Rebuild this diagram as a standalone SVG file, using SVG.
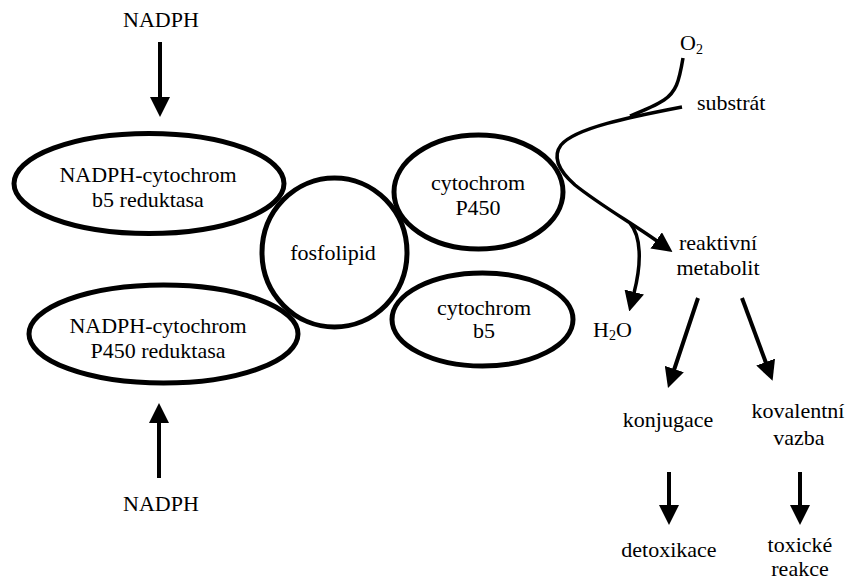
<svg xmlns="http://www.w3.org/2000/svg" width="847" height="582" viewBox="0 0 847 582">
<style>
  .node { fill: none; stroke: #000; stroke-width: 5; }
  .t { font-family: "Liberation Serif", "Times New Roman", serif; font-size: 22px; fill: #000; }
  .c { text-anchor: middle; }
  .arr { fill: none; stroke: #000; stroke-width: 4; marker-end: url(#ah); }
  .crv { fill: none; stroke: #000; stroke-width: 3.5; }
</style>
<defs>
  <marker id="ah" viewBox="0 0 20 20" refX="1" refY="10" markerWidth="20" markerHeight="20" markerUnits="userSpaceOnUse" orient="auto">
    <path d="M0,0 L20,10 L0,20 Z" fill="#000"/>
  </marker>
</defs>
<rect width="847" height="582" fill="#fff"/>

<g id="nadph-top"><text class="t c" x="161" y="27">NADPH</text></g>
<g id="nadph-bottom"><text class="t c" x="161" y="511">NADPH</text></g>

<g id="b5-reduktasa">
  <ellipse class="node" cx="149" cy="183.5" rx="135" ry="50"/>
  <text class="t c" x="148" y="182">NADPH-cytochrom</text>
  <text class="t c" x="148" y="207">b5 reduktasa</text>
</g>
<g id="p450-reduktasa">
  <ellipse class="node" cx="163.5" cy="334" rx="134.5" ry="49"/>
  <text class="t c" x="158" y="333">NADPH-cytochrom</text>
  <text class="t c" x="158" y="358">P450 reduktasa</text>
</g>
<g id="fosfolipid">
  <ellipse class="node" cx="334.5" cy="252.5" rx="72.5" ry="74.5"/>
  <text class="t c" x="333" y="260">fosfolipid</text>
</g>
<g id="cyt-p450">
  <ellipse class="node" cx="478.5" cy="192" rx="84.5" ry="57"/>
  <text class="t c" x="478" y="190">cytochrom</text>
  <text class="t c" x="478" y="215">P450</text>
</g>
<g id="cyt-b5">
  <ellipse class="node" cx="482.5" cy="319.5" rx="90.5" ry="46.5"/>
  <text class="t c" x="484" y="315">cytochrom</text>
  <text class="t c" x="484" y="338">b5</text>
</g>

<g id="o2"><text class="t" x="680" y="50">O<tspan font-size="14" dy="4">2</tspan></text></g>
<g id="substrat"><text class="t" x="697" y="110">substrát</text></g>
<g id="reaktivni">
  <text class="t c" x="718" y="250">reaktivní</text>
  <text class="t c" x="718" y="275">metabolit</text>
</g>
<g id="h2o"><text class="t" x="593" y="337">H<tspan font-size="14" dy="3">2</tspan><tspan dy="-3">O</tspan></text></g>
<g id="konjugace"><text class="t c" x="668" y="427">konjugace</text></g>
<g id="kovalentni">
  <text class="t c" x="798" y="418">kovalentní</text>
  <text class="t c" x="799" y="445">vazba</text>
</g>
<g id="detoxikace"><text class="t c" x="669" y="557">detoxikace</text></g>
<g id="toxicke">
  <text class="t c" x="800" y="552">toxické</text>
  <text class="t c" x="800" y="576">reakce</text>
</g>

<g id="connectors">
  <path class="arr" d="M160,42 V98"/>
  <path class="arr" d="M159,478 V422"/>
  <path class="crv" d="M683,58 C679,82 676,92 664,100 C655,106 645,110 630,116"/>
  <path class="crv" d="M682,107 C630,117 575,128 561,145 C552,157 558,170 575,185 C600,205 630,222 657,241" style="marker-end:url(#ah)"/>
  <path class="crv" d="M630,223 C641,236 642,262 634,293" style="marker-end:url(#ah)"/>
  <path class="arr" d="M698,298 L674,370"/>
  <path class="arr" d="M742,298 L766,363"/>
  <path class="arr" d="M669,472 V506"/>
  <path class="arr" d="M800,472 V506"/>
</g>
</svg>
